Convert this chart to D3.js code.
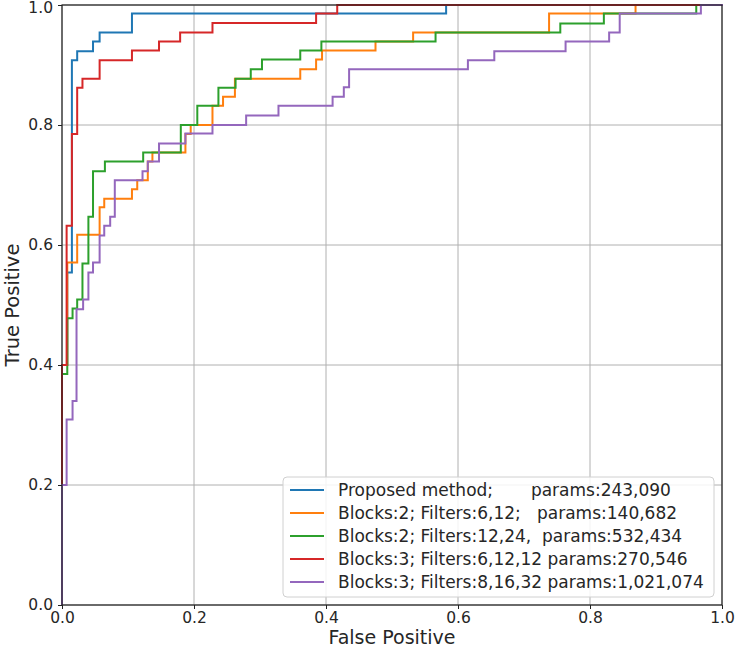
<!DOCTYPE html>
<html>
<head>
<meta charset="utf-8">
<script src="https://cdn.jsdelivr.net/npm/d3@7"></script>
<style>
  html, body { margin: 0; padding: 0; background: #fff; }
  svg { display: block; }
  text { font-family: "DejaVu Sans", sans-serif; fill: #262626; }
</style>
</head>
<body>
<svg id="chart" width="735" height="648"></svg>
<script>
// ---- data (ROC corner points) ----
const seriesNames = [
  "Proposed method;       params:243,090",
  "Blocks:2; Filters:6,12;   params:140,682",
  "Blocks:2; Filters:12,24,  params:532,434",
  "Blocks:3; Filters:6,12,12 params:270,546",
  "Blocks:3; Filters:8,16,32 params:1,021,074"
];
const seriesColors = ["#1f77b4", "#ff7f0e", "#2ca02c", "#d62728", "#9467bd"];

const fprProposed = [0,0,0.008,0.008,0.015,0.015,0.023,0.023,0.047,0.047,0.057,0.057,0.106,0.106,0.582,0.582,1];
const tprProposed = [0,0.4,0.4,0.554,0.554,0.908,0.908,0.923,0.923,0.939,0.939,0.954,0.954,0.986,0.986,1,1];

const fprB2F612 = [0,0,0.008,0.008,0.023,0.023,0.057,0.057,0.064,0.064,0.106,0.106,0.114,0.114,0.130,0.130,0.137,0.137,0.187,0.187,0.195,0.195,0.228,0.228,0.244,0.244,0.262,0.262,0.361,0.361,0.385,0.385,0.394,0.394,0.475,0.475,0.532,0.532,0.738,0.738,0.869,0.869,1];
const tprB2F612 = [0,0.4,0.4,0.571,0.571,0.617,0.617,0.663,0.663,0.677,0.677,0.693,0.693,0.708,0.708,0.739,0.739,0.754,0.754,0.785,0.785,0.8,0.8,0.832,0.832,0.847,0.847,0.877,0.877,0.893,0.893,0.909,0.909,0.924,0.924,0.939,0.939,0.954,0.954,0.986,0.986,1,1];

const fprB2F1224 = [0,0,0.008,0.008,0.016,0.016,0.023,0.023,0.031,0.031,0.040,0.040,0.047,0.047,0.065,0.065,0.123,0.123,0.180,0.180,0.205,0.205,0.237,0.237,0.263,0.263,0.286,0.286,0.303,0.303,0.361,0.361,0.393,0.393,0.566,0.566,0.755,0.755,0.821,0.821,0.961,0.961,1];
const tprB2F1224 = [0,0.385,0.385,0.478,0.478,0.494,0.494,0.509,0.509,0.569,0.569,0.647,0.647,0.723,0.723,0.739,0.739,0.754,0.754,0.8,0.8,0.832,0.832,0.862,0.862,0.877,0.877,0.893,0.893,0.909,0.909,0.924,0.924,0.939,0.939,0.954,0.954,0.969,0.969,0.986,0.986,1,1];

const fprB3F61212 = [0,0,0.007,0.007,0.015,0.015,0.023,0.023,0.031,0.031,0.057,0.057,0.106,0.106,0.147,0.147,0.179,0.179,0.228,0.228,0.385,0.385,0.417,0.417,1];
const tprB3F61212 = [0,0.4,0.4,0.632,0.632,0.785,0.785,0.862,0.862,0.877,0.877,0.908,0.908,0.924,0.924,0.939,0.939,0.954,0.954,0.970,0.970,0.986,0.986,1,1];

const fprB3F81632 = [0,0,0.007,0.007,0.016,0.016,0.022,0.022,0.032,0.032,0.040,0.040,0.047,0.047,0.057,0.057,0.064,0.064,0.073,0.073,0.080,0.080,0.122,0.122,0.130,0.130,0.147,0.147,0.187,0.187,0.228,0.228,0.279,0.279,0.328,0.328,0.410,0.410,0.427,0.427,0.435,0.435,0.615,0.615,0.655,0.655,0.763,0.763,0.829,0.829,0.845,0.845,0.968,0.968,1];
const tprB3F81632 = [0,0.2,0.2,0.309,0.309,0.34,0.34,0.493,0.493,0.509,0.509,0.554,0.554,0.571,0.571,0.616,0.616,0.632,0.632,0.647,0.647,0.708,0.708,0.723,0.723,0.739,0.739,0.769,0.769,0.786,0.786,0.8,0.8,0.816,0.816,0.832,0.832,0.847,0.847,0.863,0.863,0.893,0.893,0.908,0.908,0.923,0.923,0.939,0.939,0.954,0.954,0.986,0.986,1,1];

const xTicks = [0, 0.2, 0.4, 0.6, 0.8, 1.0];
const yTicks = [0, 0.2, 0.4, 0.6, 0.8, 1.0];

const seriesFpr = [fprProposed, fprB2F612, fprB2F1224, fprB3F61212, fprB3F81632];
const seriesTpr = [tprProposed, tprB2F612, tprB2F1224, tprB3F61212, tprB3F81632];

// ---- layout ----
const svg = d3.select("#chart");
const L = 62, R = 722, T = 5, B = 605;
const x = d3.scaleLinear().domain([0, 1]).range([L, R]);
const y = d3.scaleLinear().domain([0, 1]).range([B, T]);

// grid
const grid = svg.append("g");
grid.selectAll(".gx").data(xTicks).enter().append("line")
  .attr("x1", d => x(d)).attr("x2", d => x(d)).attr("y1", T).attr("y2", B)
  .attr("stroke", "#b0b0b0").attr("stroke-width", 1);
grid.selectAll(".gy").data(yTicks).enter().append("line")
  .attr("y1", d => y(d)).attr("y2", d => y(d)).attr("x1", L).attr("x2", R)
  .attr("stroke", "#b0b0b0").attr("stroke-width", 1);

// curves
const line = d3.line().x(d => x(d[0])).y(d => y(d[1]));
seriesFpr.forEach((fx, i) => {
  const pts = fx.map((v, j) => [v, seriesTpr[i][j]]);
  svg.append("path").datum(pts)
    .attr("d", line)
    .attr("fill", "none")
    .attr("stroke", seriesColors[i])
    .attr("stroke-width", 2)
    .attr("stroke-linejoin", "miter")
    .attr("stroke-linecap", "square");
});

// spines
svg.append("rect").attr("x", L).attr("y", T).attr("width", R - L).attr("height", B - T)
  .attr("fill", "none").attr("stroke", "#222").attr("stroke-width", 1.2);

// axes
const xAxis = d3.axisBottom(x).tickValues(xTicks).tickFormat(d3.format(".1f")).tickSize(4).tickPadding(3);
const yAxis = d3.axisLeft(y).tickValues(yTicks).tickFormat(d3.format(".1f")).tickSize(4).tickPadding(5);
const gx = svg.append("g").attr("transform", `translate(0,${B})`).call(xAxis);
const gy = svg.append("g").attr("transform", `translate(${L},0)`).call(yAxis);
[gx, gy].forEach(g => {
  g.select(".domain").remove();
  g.selectAll(".tick line").attr("stroke", "#222");
  g.selectAll(".tick text").attr("font-size", 15.5).attr("font-family", "DejaVu Sans").attr("fill", "#262626");
});
gy.selectAll(".tick text").filter(d => d === 1).attr("dy", "0.5em");

// axis labels
svg.append("text").attr("x", (L + R) / 2).attr("y", 643.5)
  .attr("text-anchor", "middle").attr("font-size", 19).text("False Positive");
svg.append("text").attr("transform", `translate(19,${(T + B) / 2}) rotate(-90)`)
  .attr("text-anchor", "middle").attr("font-size", 19.5).text("True Positive");

// legend
const lg = svg.append("g");
lg.append("rect").attr("x", 283).attr("y", 477).attr("width", 431).attr("height", 120)
  .attr("rx", 4).attr("fill", "#fff").attr("fill-opacity", 0.85)
  .attr("stroke", "#d0d0d0").attr("stroke-width", 1);
seriesNames.forEach((name, i) => {
  const yy = 490 + i * 23;
  lg.append("line").attr("x1", 290).attr("x2", 324).attr("y1", yy).attr("y2", yy)
    .attr("stroke", seriesColors[i]).attr("stroke-width", 2);
  lg.append("text").attr("x", 338).attr("y", yy).attr("dy", "0.36em")
    .attr("font-size", 17).style("white-space", "pre").text(name);
});
</script>
</body>
</html>
